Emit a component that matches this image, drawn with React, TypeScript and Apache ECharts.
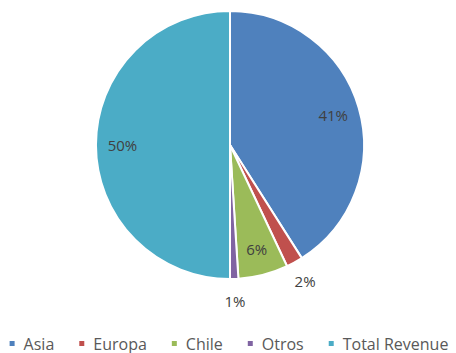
import React, { useEffect, useRef } from "react";
import * as echarts from "echarts";

const categories = ["Asia", "Europa", "Chile", "Otros", "Total Revenue"];
const values = [41, 2, 6, 1, 50];
const colors = ["#4F81BD", "#C0504D", "#9BBB59", "#8064A2", "#4BACC6"];
const outsideLabels = ["Europa", "Otros"];

export default function App() {
  const ref = useRef<HTMLDivElement>(null);
  useEffect(() => {
    if (!ref.current) return;
    const chart = echarts.init(ref.current, null, { renderer: "svg" });
    const font = "'Open Sans', 'Liberation Sans', Arial, sans-serif";
    const center = ["230", "145"];
    const R = 134;
    const labelStyle = {
      show: true,
      position: "inside",
      formatter: "{d}%",
      fontFamily: font,
      fontSize: 15,
      color: "#404040",
    };
    const transparent = { color: "rgba(0,0,0,0)" };
    chart.setOption({
      animation: false,
      color: colors,
      legend: {
        top: 335,
        left: "center",
        padding: 0,
        icon: "rect",
        itemWidth: 7,
        itemHeight: 7,
        itemGap: 23,
        data: categories,
        textStyle: {
          fontFamily: font,
          fontSize: 16,
          lineHeight: 17,
          color: "#595959",
          padding: [0, 0, 0, 3],
        },
      },
      series: [
        {
          type: "pie",
          center,
          radius: [0, R],
          startAngle: 90,
          clockwise: true,
          silent: true,
          itemStyle: { borderColor: "#fff", borderWidth: 2 },
          label: { show: false },
          labelLine: { show: false },
          data: categories.map((c, i) => ({ name: c, value: values[i] })),
        },
        {
          type: "pie",
          center,
          radius: [R * 0.56, R],
          startAngle: 90,
          clockwise: true,
          silent: true,
          itemStyle: transparent,
          labelLine: { show: false },
          label: labelStyle,
          data: categories.map((c, i) => ({
            name: c,
            value: values[i],
            itemStyle: transparent,
            label: { show: !outsideLabels.includes(c) },
          })),
        },
        {
          type: "pie",
          center,
          radius: [R, R * 1.28],
          startAngle: 90,
          clockwise: true,
          silent: true,
          itemStyle: transparent,
          labelLine: { show: false },
          label: labelStyle,
          data: categories.map((c, i) => ({
            name: c,
            value: values[i],
            itemStyle: transparent,
            label: { show: outsideLabels.includes(c) },
          })),
        },
      ],
    });
    return () => chart.dispose();
  }, []);
  return (
    <div
      ref={ref}
      style={{ position: "fixed", left: 0, top: 0, width: 456, height: 353, background: "#fff" }}
    />
  );
}
